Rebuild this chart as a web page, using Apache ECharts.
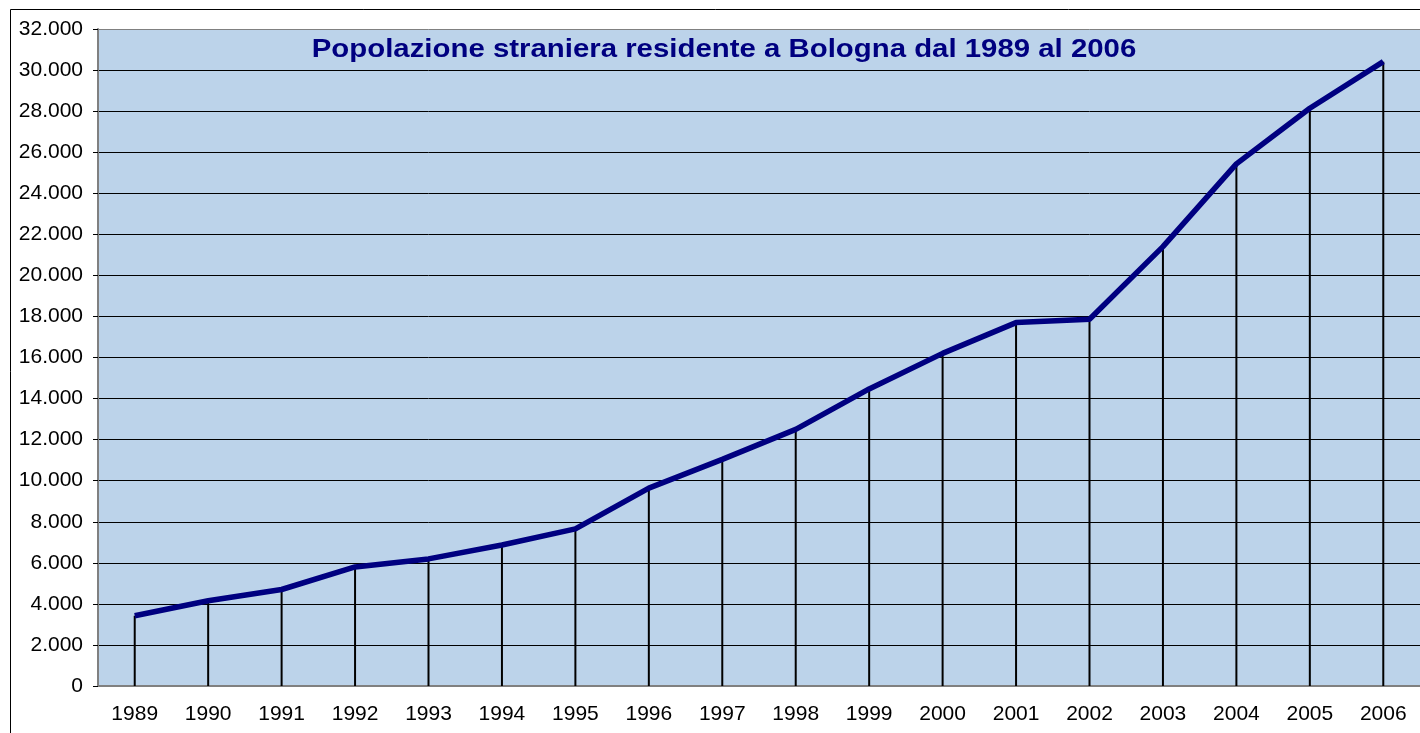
<!DOCTYPE html>
<html>
<head>
<meta charset="utf-8">
<script src="https://cdn.jsdelivr.net/npm/echarts@6/dist/echarts.min.js"></script>
<style>
  html, body { margin: 0; padding: 0; background: #fff; }
  #chart { width: 1420px; height: 733px; }
</style>
</head>
<body>
<div id="chart"></div>
<script>
var anni = ["1989", "1990", "1991", "1992", "1993", "1994", "1995", "1996", "1997",
  "1998", "1999", "2000", "2001", "2002", "2003", "2004", "2005", "2006"];
var stranieri = [3420, 4150, 4700, 5800, 6190, 6870, 7650, 9640, 11040,
  12500, 14470, 16200, 17700, 17860, 21400, 25430, 28140, 30410];
var yTicks = [0, 32000, 2000]; // min, max, interval

var titolo = "Popolazione straniera residente a Bologna dal 1989 al 2006";

var myChart = echarts.init(document.getElementById("chart"));

// colori delle linee di griglia: l'ultima (bordo superiore) grigia
var gridColors = [];
for (var i = 0; i < 16; i++) gridColors.push("#000000");
gridColors.push("#808080");

function fmt(v) {
  return String(v).replace(/\B(?=(\d{3})+(?!\d))/g, ".");
}

var option = {
  animation: false,
  backgroundColor: "#ffffff",
  textStyle: { fontFamily: "Liberation Sans, Arial, sans-serif" },
  graphic: [
    {
      type: "rect",
      shape: { x: 10.5, y: 9.5, width: 1500, height: 800 },
      style: { fill: "none", stroke: "#000", lineWidth: 1 },
      silent: true
    },
    {
      // titolo, leggermente allargato come nell'originale
      type: "text",
      x: 724,
      y: 50,
      scaleX: 1.13,
      z: 10,
      style: {
        text: titolo,
        fill: "#000080",
        font: "bold 26px 'Liberation Sans', Arial, sans-serif",
        align: "center",
        verticalAlign: "middle"
      },
      silent: true
    }
  ],
  grid: {
    left: 98,
    top: 29,
    width: 1324,
    bottom: 47,
    show: true,
    backgroundColor: "#BCD3EA",
    borderWidth: 0
  },
  xAxis: {
    type: "category",
    data: anni,
    boundaryGap: true,
    axisTick: { show: false },
    axisLine: { lineStyle: { color: "#808080", width: 2 } },
    axisLabel: {
      color: "#000",
      fontSize: 21,
      margin: 18,
      interval: 0
    },
    splitLine: { show: false }
  },
  yAxis: {
    type: "value",
    min: yTicks[0],
    max: yTicks[1],
    interval: yTicks[2],
    axisLine: { show: true, lineStyle: { color: "#808080", width: 2 } },
    axisTick: { show: true, length: 5, lineStyle: { color: "#000" } },
    axisLabel: {
      color: "#000",
      fontSize: 21,
      margin: 15,
      formatter: fmt
    },
    splitLine: { show: true, lineStyle: { color: gridColors, width: 1 } }
  },
  series: [
    {
      // linee verticali di riferimento
      type: "bar",
      data: stranieri,
      barWidth: 2,
      itemStyle: { color: "#000" },
      z: 1,
      silent: true
    },
    {
      type: "line",
      data: stranieri,
      symbol: "none",
      lineStyle: { color: "#000080", width: 5.5 },
      z: 3
    }
  ]
};

myChart.setOption(option);
</script>
</body>
</html>
